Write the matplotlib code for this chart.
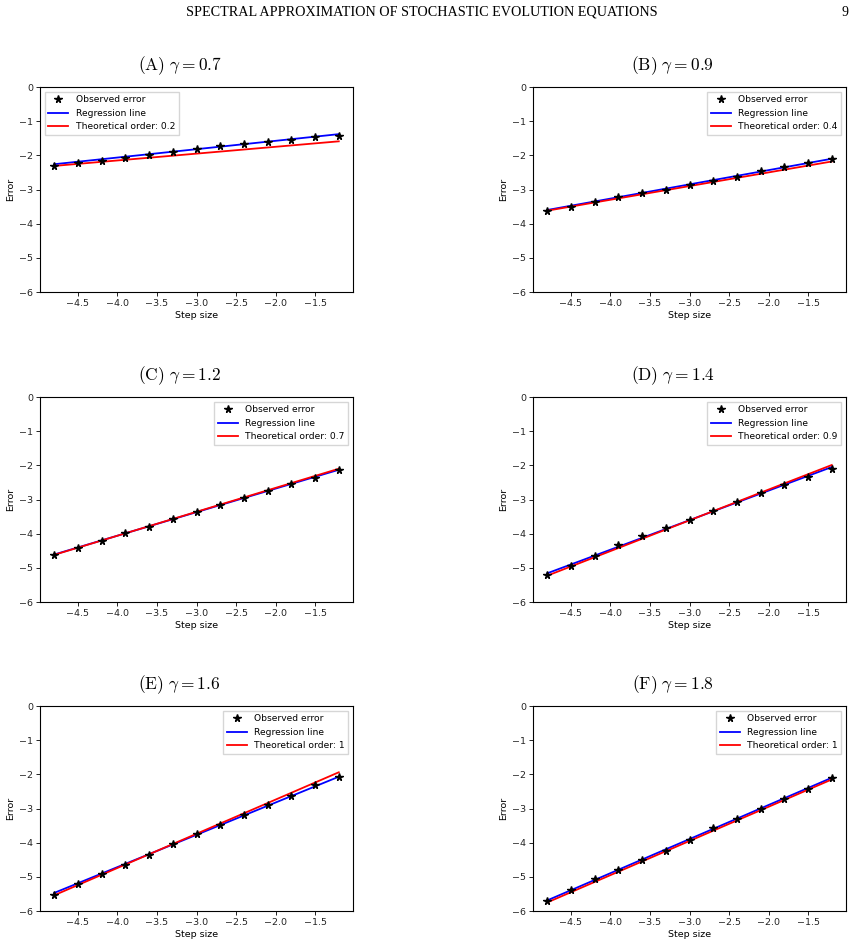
import numpy as np
import matplotlib
matplotlib.use('Agg')
import matplotlib.pyplot as plt

plt.rcParams['mathtext.fontset'] = 'cm'
plt.rcParams['font.size'] = 6.8

# log step sizes (x axis), shared by every panel
step = [-4.8, -4.5, -4.2, -3.9, -3.6, -3.3, -3.0, -2.7, -2.4, -2.1, -1.8, -1.5, -1.2]

labels = ['A', 'B', 'C', 'D', 'E', 'F']
gammas = ['0.7', '0.9', '1.2', '1.4', '1.6', '1.8']
orders = ['0.2', '0.4', '0.7', '0.9', '1', '1']

err_a = [-2.30, -2.22, -2.16, -2.08, -1.98, -1.90, -1.82, -1.72, -1.66, -1.60, -1.55, -1.47, -1.42]
err_b = [-3.63, -3.50, -3.36, -3.23, -3.11, -3.00, -2.87, -2.76, -2.62, -2.47, -2.34, -2.22, -2.10]
err_c = [-4.62, -4.42, -4.22, -3.99, -3.80, -3.58, -3.38, -3.17, -2.95, -2.76, -2.56, -2.36, -2.14]
err_d = [-5.21, -4.94, -4.65, -4.33, -4.06, -3.83, -3.60, -3.34, -3.08, -2.80, -2.57, -2.33, -2.10]
err_e = [-5.52, -5.22, -4.93, -4.64, -4.37, -4.05, -3.74, -3.47, -3.20, -2.89, -2.62, -2.32, -2.07]
err_f = [-5.72, -5.38, -5.05, -4.79, -4.52, -4.23, -3.93, -3.57, -3.31, -3.00, -2.72, -2.43, -2.12]
errors = [err_a, err_b, err_c, err_d, err_e, err_f]

# end points of the lines, at step[0] and step[-1]
reg_ends = [[-2.26, -1.38], [-3.60, -2.10], [-4.61, -2.13],
            [-5.16, -2.05], [-5.47, -2.07], [-5.69, -2.10]]
theo_ends = [[-2.31, -1.59], [-3.62, -2.18], [-4.62, -2.10],
             [-5.23, -1.99], [-5.54, -1.94], [-5.75, -2.15]]

W, H = 857, 947
fig = plt.figure(figsize=(W / 100, H / 100), dpi=100)

col_x = [40, 533]
row_top = [87, 397, 706]
aw, ah = 313, 205

fig.text(422 / W, 1 - 12 / H, 'SPECTRAL APPROXIMATION OF STOCHASTIC EVOLUTION EQUATIONS',
         family='Liberation Serif', fontsize=10.2, ha='center', va='center')
fig.text(845 / W, 1 - 12 / H, '9', family='Liberation Serif', fontsize=10,
         ha='center', va='center')

for i in range(6):
    r, c = divmod(i, 2)
    x0, top = col_x[c], row_top[r]
    ax = fig.add_axes([x0 / W, 1 - (top + ah) / H, aw / W, ah / H])

    ax.plot(step, errors[i], '*', color='k', ms=5.5, label='Observed error', zorder=3)
    ends_x = [step[0], step[-1]]
    ax.plot(ends_x, reg_ends[i], color='b', lw=1.3, label='Regression line')
    ax.plot(ends_x, theo_ends[i], color='r', lw=1.3,
            label='Theoretical order: ' + orders[i])

    ax.set_ylim(-6, 0)
    ax.set_xlim(-4.98, -1.02)
    ax.set_xticks([-4.5, -4.0, -3.5, -3.0, -2.5, -2.0, -1.5])
    ax.set_yticks([0, -1, -2, -3, -4, -5, -6])
    ax.tick_params(length=3, width=0.7, pad=2, colors='#222222')
    for s in ax.spines.values():
        s.set_linewidth(0.8)
    ax.set_xlabel('Step size', labelpad=2)
    ax.set_ylabel('Error', labelpad=3)
    ax.legend(loc='upper left' if i == 0 else 'upper right', fontsize=6.6,
              fancybox=False, edgecolor='#cccccc', handlelength=2.2)

    tx = (x0 - 17 + aw / 2) / W
    fig.text(tx, 1 - (top - 21) / H,
             r'$(\mathrm{%s})\ \gamma = %s$' % (labels[i], gammas[i]),
             fontsize=12.5, ha='center', va='center')

fig.savefig('out.png', dpi=100)
